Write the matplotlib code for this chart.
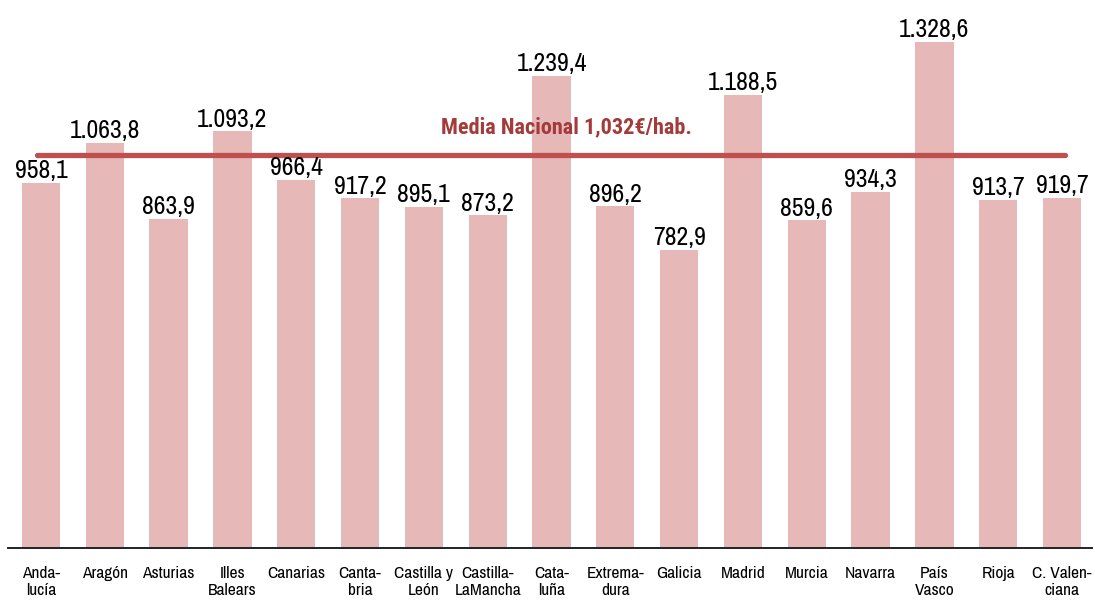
import matplotlib
matplotlib.use("Agg")
import matplotlib.pyplot as plt
from matplotlib import font_manager

regiones = ["Anda-\nlucía", "Aragón", "Asturias", "Illes\nBalears", "Canarias",
            "Canta-\nbria", "Castilla y\nLeón", "Castilla-\nLaMancha", "Cata-\nluña",
            "Extrema-\ndura", "Galicia", "Madrid", "Murcia", "Navarra",
            "País\nVasco", "Rioja", "C. Valen-\nciana"]
gasto = [958.1, 1063.8, 863.9, 1093.2, 966.4, 917.2, 895.1, 873.2, 1239.4,
         896.2, 782.9, 1188.5, 859.6, 934.3, 1328.6, 913.7, 919.7]
media_nacional = 1032
texto_media = "Media Nacional 1,032€/hab."

# narrow fonts, fall back to plain sans if missing
plt.rcParams['font.family'] = ['Liberation Sans Narrow', 'Arial Narrow', 'Archivo Narrow',
                               'Liberation Sans', 'DejaVu Sans']
fl = font_manager.fontManager.ttflist
bold_fam = ['Liberation Sans']
for cand in ['Liberation Sans Narrow', 'Arial Narrow', 'Archivo Narrow', 'Roboto Condensed']:
    if any(f.name == cand and f.weight in (700, 'bold') for f in fl):
        bold_fam = [cand]
        break
bold_fam += ['DejaVu Sans']


def fmt_es(v):
    s = "{:,.1f}".format(v)
    return s.replace(",", "X").replace(".", ",").replace("X", ".")


fig = plt.figure(figsize=(10.95, 6), dpi=100)
ax = fig.add_axes([8 / 1095, 52 / 600, 1084 / 1095, 548 / 600])

x = list(range(len(regiones)))
ax.bar(x, gasto, width=0.6, color="#e6b9b8", zorder=1)

for xi, v in zip(x, gasto):
    ax.annotate(fmt_es(v), (xi, v), xytext=(0, 0.5), textcoords="offset points",
                ha="center", va="bottom", fontsize=18.5, color="black")

ax.plot([-0.06, 16.05], [media_nacional, media_nacional], color="#c0504d",
        lw=3.8, solid_capstyle="round", zorder=2)
ax.text(8.23, 1105, texto_media, ha="center", va="center", fontsize=16,
        fontweight="bold", color="#a33b3b", zorder=3, family=bold_fam)

ax.set_xlim(-0.517, 16.47)
ax.set_ylim(0, 1438)
ax.set_xticks(x)
ax.set_xticklabels(regiones, fontsize=12.5, linespacing=1.2)
ax.tick_params(axis="x", length=0, pad=13)
ax.set_yticks([])
for s in ["top", "right", "left"]:
    ax.spines[s].set_visible(False)
ax.spines["bottom"].set_linewidth(1.4)
ax.spines["bottom"].set_color("#222222")

fig.savefig("out.png", dpi=100)
